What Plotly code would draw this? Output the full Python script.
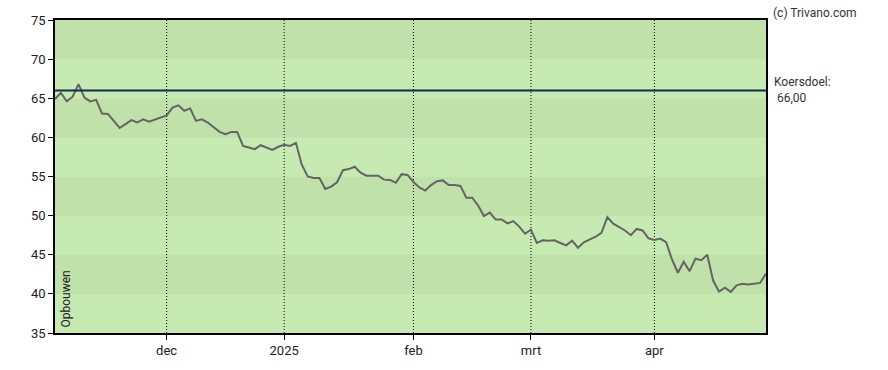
import pandas as pd
import plotly.graph_objects as go

# Trading days (Euronext) from 2024-11-05 to 2025-04-30
holidays = ["2024-12-25", "2024-12-26", "2025-01-01", "2025-04-18", "2025-04-21"]
dates = [d for d in pd.bdate_range("2024-11-05", "2025-04-30") if d.strftime("%Y-%m-%d") not in holidays]

prices = [
    64.9, 65.7, 64.6, 65.2, 66.8, 65.1, 64.6, 64.8, 63.05, 63.0,
    62.1, 61.2, 61.7, 62.2, 61.9, 62.3, 62.0, 62.3, 62.55,
    62.8, 63.8, 64.1, 63.4, 63.7, 62.1, 62.3, 61.9, 61.25, 60.7,
    60.4, 60.7, 60.7, 58.9, 58.7, 58.5, 59.0, 58.7, 58.4, 58.8,
    59.04, 58.9, 59.3, 56.5, 55.0, 54.8, 54.8, 53.4, 53.7, 54.26,
    55.8, 55.95, 56.25, 55.5, 55.1, 55.1, 55.1, 54.6, 54.56, 54.2,
    55.3, 55.2,
    54.3, 53.6, 53.2, 53.9, 54.4, 54.5, 53.9, 53.9, 53.8, 52.3,
    52.3, 51.3, 49.95, 50.4, 49.5, 49.5, 49.0, 49.3, 48.6, 47.7,
    48.2, 46.5, 46.85, 46.8, 46.85, 46.5, 46.2, 46.8, 45.9, 46.6,
    46.97, 47.3, 47.8, 49.8, 48.97, 48.55, 48.1, 47.5, 48.3, 48.1,
    47.1,
    46.9, 47.06, 46.6, 44.4, 42.7, 44.1, 42.9, 44.5, 44.3, 45.0,
    41.7, 40.3, 40.8, 40.25, 41.1, 41.3, 41.2, 41.3, 41.4, 42.6,
]

target = 66.0
target_label = "Koersdoel:<br> 66,00"
tick_dates = ["2024-12-02", "2025-01-02", "2025-02-03", "2025-03-03", "2025-04-01"]
tick_labels = ["dec", "2025", "feb", "mrt", "apr"]
y_ticks = [35, 40, 45, 50, 55, 60, 65, 70, 75]

dark_band = "#c0e1aa"
light_band = "#c6eab2"

fig = go.Figure()

shapes = []
for lo in range(35, 75, 5):
    shapes.append(dict(type="rect", xref="paper", yref="y", x0=0, x1=1, y0=lo, y1=lo + 5,
                       fillcolor=(light_band if (lo // 5) % 2 == 1 else dark_band),
                       line=dict(width=0), layer="below"))
for td in tick_dates:
    shapes.append(dict(type="line", xref="x", yref="paper", x0=td, x1=td, y0=0, y1=1,
                       line=dict(color="black", width=1, dash="1px,2px"), layer="below"))
shapes.append(dict(type="line", xref="paper", yref="y", x0=0, x1=1, y0=target, y1=target,
                   line=dict(color="#0b2f4f", width=2)))

fig.add_trace(go.Scatter(x=dates, y=prices, mode="lines",
                         line=dict(color="#646464", width=2), hoverinfo="skip"))

fig.update_layout(
    width=888, height=370,
    margin=dict(l=55, r=122, t=20, b=35),
    paper_bgcolor="white", plot_bgcolor=light_band,
    showlegend=False,
    font=dict(family="Roboto", size=13, color="#222222"),
    shapes=shapes,
    xaxis=dict(
        type="date",
        range=[dates[0], dates[-1]],
        rangebreaks=[dict(bounds=["sat", "mon"]), dict(values=holidays)],
        tickmode="array", tickvals=tick_dates, ticktext=tick_labels,
        ticks="outside", ticklen=5, tickcolor="black",
        showgrid=False, zeroline=False,
        showline=True, linecolor="black", linewidth=1.5, mirror=True,
        tickfont=dict(size=13, color="#222222"),
    ),
    yaxis=dict(
        range=[35, 75], tickmode="array", tickvals=y_ticks,
        ticks="outside", ticklen=5, tickcolor="black",
        showgrid=False, zeroline=False,
        showline=True, linecolor="black", linewidth=1.5, mirror=True,
        tickfont=dict(size=13, color="#222222"),
    ),
    annotations=[
        dict(text=target_label, xref="paper", yref="y", x=1, y=target, xanchor="left", yanchor="middle",
             xshift=6, showarrow=False, align="left", font=dict(size=12, color="#333333")),
        dict(text="(c) Trivano.com", xref="paper", yref="paper", x=1, y=1, xanchor="left", yanchor="bottom",
             xshift=5, yshift=-2, showarrow=False, font=dict(size=12, color="#333333")),
        dict(text="Opbouwen", xref="paper", yref="paper", x=0, y=0, xanchor="left", yanchor="bottom",
             xshift=1, yshift=3, textangle=-90, showarrow=False, font=dict(size=12, color="#222222")),
    ],
)

fig.write_html("out.html")
